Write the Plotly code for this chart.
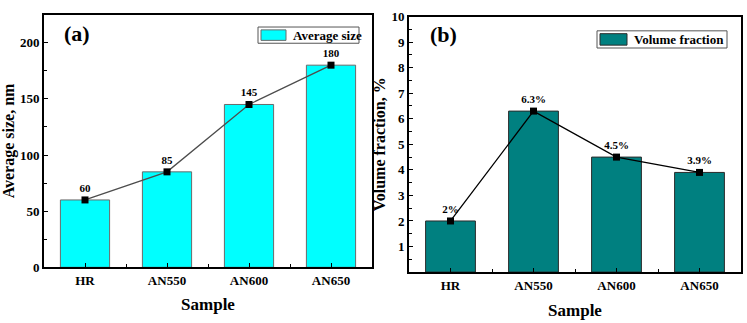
import plotly.graph_objects as go

samples = ["HR", "AN550", "AN600", "AN650"]
avg_size = [60, 85, 145, 180]
avg_labels = ["60", "85", "145", "180"]
vol_frac = [2.0, 6.3, 4.5, 3.9]
vol_labels = ["2%", "6.3%", "4.5%", "3.9%"]

FONT = "Liberation Serif"
pos = list(range(len(samples)))

fig = go.Figure()

# Panel (a)
fig.add_trace(go.Bar(x=pos, y=avg_size, width=0.6, marker=dict(color="#00FFFF", line=dict(color="#6a6a6a", width=1)),
                     xaxis="x", yaxis="y", showlegend=False))
fig.add_trace(go.Scatter(x=pos, y=avg_size, mode="lines+markers+text", text=avg_labels, textposition="top center",
                         textfont=dict(family=FONT, size=11, color="black", weight="bold"),
                         line=dict(color="#4d4d4d", width=1.3), marker=dict(symbol="square", size=7, color="black"),
                         xaxis="x", yaxis="y", showlegend=False, cliponaxis=False))

# Panel (b)
fig.add_trace(go.Bar(x=pos, y=vol_frac, width=0.6, marker=dict(color="#008080", line=dict(color="#2a2a2a", width=1)),
                     xaxis="x2", yaxis="y2", showlegend=False))
fig.add_trace(go.Scatter(x=pos, y=vol_frac, mode="lines+markers+text", text=vol_labels, textposition="top center",
                         textfont=dict(family=FONT, size=11, color="black", weight="bold"),
                         line=dict(color="black", width=1.3), marker=dict(symbol="square", size=7, color="black"),
                         xaxis="x2", yaxis="y2", showlegend=False, cliponaxis=False))

axis_common = dict(showline=True, mirror=True, linecolor="black", linewidth=2,
                   tickfont=dict(family=FONT, size=13, color="black", weight="bold"),
                   showgrid=False, zeroline=False, tickcolor="black")

xcommon = dict(range=[-0.5, 3.5], tickvals=pos, ticktext=samples, ticks="inside", ticklen=4,
               minor=dict(ticks="inside", ticklen=3, tick0=0.5, dtick=1, tickcolor="black"))

fig.update_layout(
    width=747, height=323, margin=dict(l=0, r=0, t=0, b=0),
    paper_bgcolor="white", plot_bgcolor="white",
    font=dict(family=FONT, color="black"),
    xaxis=dict(domain=[44/747, 372/747],
               title=dict(text="<b>Sample</b>", font=dict(family=FONT, size=17), standoff=11),
               anchor="y", **xcommon, **axis_common),
    yaxis=dict(domain=[50/323, 315/323], range=[0, 225], tickvals=[0, 50, 100, 150, 200], ticks="inside", ticklen=4,
               minor=dict(ticks="inside", ticklen=2.5, dtick=25, tickcolor="black"),
               title=dict(text="<b>Average size, nm</b>", font=dict(family=FONT, size=16), standoff=7),
               anchor="x", **axis_common),
    xaxis2=dict(domain=[409/747, 741/747],
                title=dict(text="<b>Sample</b>", font=dict(family=FONT, size=17), standoff=12),
                anchor="y2", **xcommon, **axis_common),
    yaxis2=dict(domain=[45/323, 313/323], range=[0, 10], tickvals=list(range(1, 11)), ticks="inside", ticklen=4,
                minor=dict(ticks="inside", ticklen=2.5, dtick=0.5, tickcolor="black"),
                title=dict(text="<b>Volume fraction, %</b>", font=dict(family=FONT, size=16), standoff=2),
                anchor="x2", **axis_common),
)

# Panel labels
fig.add_annotation(text="<b>(a)</b>", xref="paper", yref="paper", x=62/747, y=1-28/323, showarrow=False,
                   xanchor="left", yanchor="middle", font=dict(family=FONT, size=22, color="black"))
fig.add_annotation(text="<b>(b)</b>", xref="paper", yref="paper", x=428/747, y=1-29/323, showarrow=False,
                   xanchor="left", yanchor="middle", font=dict(family=FONT, size=22, color="black"))

# Custom legends (box + swatch + label)
def legend(x0, y0, x1, y1, color, edge, label, sw_w):
    fig.add_shape(type="rect", xref="paper", yref="paper", x0=x0/747, x1=x1/747, y0=1-y1/323, y1=1-y0/323,
                  line=dict(color="#555555", width=1), fillcolor="white")
    fig.add_shape(type="rect", xref="paper", yref="paper", x0=(x0+3)/747, x1=(x0+3+sw_w)/747,
                  y0=1-(y1-3)/323, y1=1-(y0+3)/323, line=dict(color=edge, width=1), fillcolor=color)
    fig.add_annotation(text="<b>" + label + "</b>", xref="paper", yref="paper", x=(x0+sw_w+8)/747,
                       y=1-((y0+y1)/2)/323, showarrow=False, xanchor="left", yanchor="middle",
                       font=dict(family=FONT, size=13, color="black"))

legend(258, 21, 359, 38, "#00FFFF", "#6a6a6a", "Average size", 25)
legend(597, 25, 727, 43, "#008080", "#2a2a2a", "Volume fraction", 27)

fig.write_html("out.html")
